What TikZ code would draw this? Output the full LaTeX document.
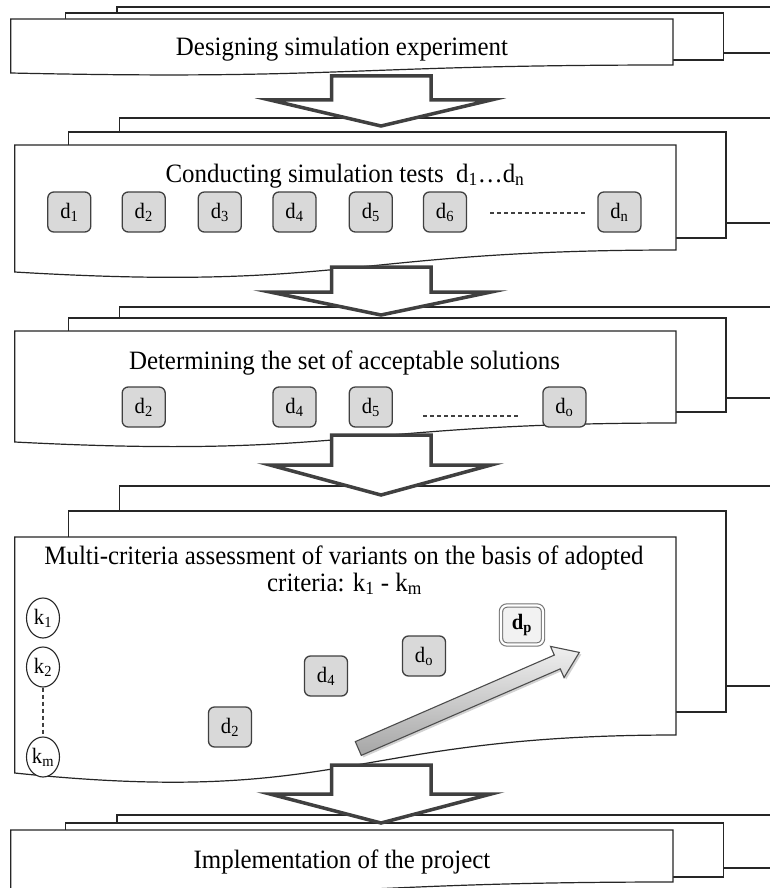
\documentclass[tikz,border=0pt]{standalone}
\usepackage{fontspec}
\setmainfont{Liberation Serif}
\newfontfamily\condfont[FakeStretch=0.94]{Liberation Serif}
\usetikzlibrary{shapes.geometric,calc,shadows}
\newcommand\sbs[1]{\textsubscript{#1}}
\tikzset{
 page/.style={draw=black!85, line width=1.2pt, fill=white, line join=miter},
 blockarrow/.style={draw=black!75, line width=3.5pt, fill=white, line join=miter, miter limit=10},
 dbox/.style={draw=black!75, fill=black!15, rounded corners=6pt, line width=1.3pt, minimum width=43pt, minimum height=40pt, inner sep=0pt, font=\condfont\fontsize{22}{24}\selectfont},
 dpbox/.style={draw=black!55, double=white, double distance=2.2pt, line width=1.1pt, fill=black!5, rounded corners=6pt, minimum width=42pt, minimum height=39pt, inner sep=0pt, font=\condfont\fontsize{22}{24}\selectfont},
 kcirc/.style={ellipse, draw=black!85, line width=1.1pt, fill=white, minimum width=33pt, minimum height=40pt, inner sep=0pt, font=\condfont\fontsize{22}{24}\selectfont},
 title/.style={font=\condfont\fontsize{26.5}{30}\selectfont, anchor=base, inner sep=0pt},
 dotline/.style={draw=black!75, line width=1.1pt, dash pattern=on 4pt off 3pt},
 bigarrow/.style={draw=black!70, line width=1.1pt, top color=black!6, bottom color=black!35, drop shadow={opacity=0.35, shadow xshift=2pt, shadow yshift=-2pt}},
}
\begin{document}
\begin{tikzpicture}[x=1pt,y=-1pt]
\useasboundingbox (0,0) rectangle (770,888);
\fill[white] (0,0) rectangle (770,888);
\clip (0,0) rectangle (770,888);

% ---------- stage 1 ----------
\draw[page] (117,7) rectangle (800,53);
\draw[page] (65.3,13) rectangle (723.5,60);
\draw[page] (10.8,19) -- (673,19) -- (673,65) .. controls (342,65) and (342,80.2) .. (10.8,73) -- cycle;
\node[title] (t1) at (342,56) {Designing simulation experiment};

% ---------- stage 2 ----------
\draw[page] (119.4,118) rectangle (800,223);
\draw[page] (68.8,132) rectangle (726,238);
\draw[page] (14.7,145) -- (676,145) -- (676,250) .. controls (345.5,250) and (345.5,291.8) .. (14.7,272) -- cycle;
\node[title] (t2) at (345,182) {Conducting simulation tests\ \ d\sbs{1}…d\sbs{n}};
\node[dbox] (d1) at (69.3,212) {d\sbs{1}};
\node[dbox] (d2) at (143.7,212) {d\sbs{2}};
\node[dbox] (d3) at (219.8,212) {d\sbs{3}};
\node[dbox] (d4) at (294.5,212) {d\sbs{4}};
\node[dbox] (d5) at (370.8,212) {d\sbs{5}};
\node[dbox] (d6) at (445,212) {d\sbs{6}};
\node[dbox] (dn) at (619.4,212) {d\sbs{n}};
\draw[dotline] ($(d6.east)+(23,1)$) -- ($(dn.west)+(-11,1)$);

% ---------- stage 3 ----------
\draw[page] (119.4,307) rectangle (800,398);
\draw[page] (68.8,318) rectangle (726,412);
\draw[page] (14.7,331) -- (676,331) -- (676,423) .. controls (345.5,423) and (345.5,459.1) .. (14.7,442) -- cycle;
\node[title] (t3) at (344.5,369) {Determining the set of acceptable solutions};
\node[dbox] (e2) at (143.7,407) {d\sbs{2}};
\node[dbox] (e4) at (294.5,407) {d\sbs{4}};
\node[dbox] (e5) at (370.8,407) {d\sbs{5}};
\node[dbox] (eo) at (564.4,407) {d\sbs{o}};
\draw[dotline] ($(e5.east)+(30.5,9)$) -- ($(eo.west)+(-23,9)$);

% ---------- stage 4 ----------
\draw[page] (119.4,486) rectangle (800,686);
\draw[page] (68.8,511) rectangle (726,712);
\draw[page] (14.7,537) -- (676,537) -- (676,735) .. controls (345.5,735) and (345.5,807.2) .. (14.7,773) -- cycle;
\node[title] (t4a) at (344,564) {Multi-criteria assessment of variants on the basis of adopted};
\node[title] (t4b) at (344.5,591) {criteria: k\sbs{1} - k\sbs{m}};
\node[kcirc] (k1) at (43,618) {k\sbs{1}};
\node[kcirc] (k2) at (43,667) {k\sbs{2}};
\node[kcirc] (km) at (43,757) {k\sbs{m}};
\draw[dotline] (k2.south) -- (km.north);
\node[dbox] (f2) at (230,727) {d\sbs{2}};
\node[dbox] (f4) at (326,676) {d\sbs{4}};
\node[dbox] (fo) at (424,656) {d\sbs{o}};
\node[dpbox] (dp) at (522,625) {\textbf{d\sbs{p}}};
\begin{scope}[shift={(358.3,748.5)}, rotate=23.5]
\path[bigarrow] (0,-7.5) -- (217,-7.5) -- (217,-17) -- (241,0) -- (217,17) -- (217,7.5) -- (0,7.5) -- cycle;
\end{scope}

% ---------- stage 5 ----------
\draw[page] (117,815) rectangle (800,868);
\draw[page] (65.3,823) rectangle (723.5,877);
\draw[page] (10.8,830) -- (673,830) -- (673,882) .. controls (342,882) and (342,901) .. (10.8,892) -- cycle;
\node[title] (t5) at (342,868) {Implementation of the project};

% ---------- block arrows ----------
\draw[blockarrow] (331.5,76) -- (431,76) -- (431,100) -- (491,100) -- (381,126) -- (270,100) -- (331.5,100) -- cycle;
\draw[blockarrow] (331.5,267) -- (431,267) -- (431,292) -- (491,292) -- (381,315) -- (270,292) -- (331.5,292) -- cycle;
\draw[blockarrow] (331.5,435) -- (431,435) -- (431,465) -- (491,465) -- (381,495) -- (270,465) -- (331.5,465) -- cycle;
\draw[blockarrow] (331.5,765) -- (431,765) -- (431,794) -- (491,794) -- (381,823) -- (270,794) -- (331.5,794) -- cycle;
\end{tikzpicture}
\end{document}
